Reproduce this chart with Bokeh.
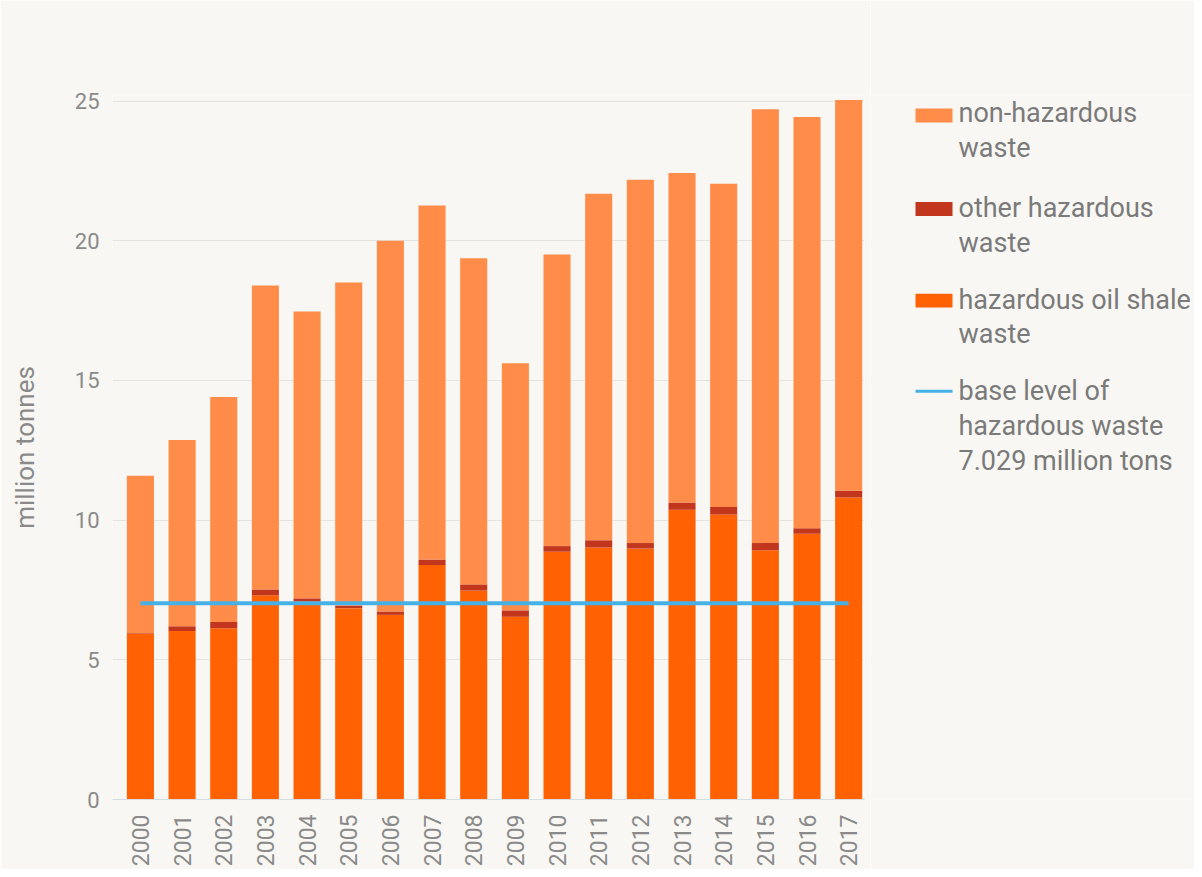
from bokeh.plotting import figure
from bokeh.layouts import row
from bokeh.models import ColumnDataSource, Range1d, FixedTicker
from bokeh.core.properties import value
from bokeh.embed import file_html
from bokeh.resources import INLINE
import math

years = list(range(2000, 2018))
oil_shale = [5.92, 6.03, 6.13, 7.31, 7.10, 6.85, 6.61, 8.39, 7.48, 6.54, 8.87, 9.02, 8.98, 10.37, 10.20, 8.92, 9.51, 10.81]
other_haz = [0.03, 0.17, 0.22, 0.21, 0.10, 0.09, 0.12, 0.20, 0.22, 0.23, 0.20, 0.26, 0.20, 0.26, 0.27, 0.26, 0.20, 0.24]
non_haz = [5.64, 6.67, 8.06, 10.88, 10.27, 11.57, 13.27, 12.67, 11.67, 8.85, 10.44, 12.40, 13.00, 11.80, 11.57, 15.53, 14.72, 13.99]
base_level = 7.029
y_ticks = [0, 5, 10, 15, 20, 25]
legend_lines = ["non-hazardous", "waste",
                "other hazardous", "waste",
                "hazardous oil shale", "waste",
                "base level of", "hazardous waste", "7.029 million tons"]

C_OIL = "#FF6103"
C_OTHER = "#C2361E"
C_NON = "#FF8C48"
C_LINE = "#45B1E6"
BG = "#F8F7F3"
TXT = "#8A8A8A"
LTXT = "#7A7A7A"
FONT = "Roboto"

src = ColumnDataSource(dict(year=years, oil=oil_shale, other=other_haz, non=non_haz,
                            base=[base_level] * len(years)))

H = 869
TOP, BOTTOM = 95, 67
p = figure(width=870, height=H, output_backend="svg", toolbar_location=None,
           x_range=Range1d(1999.33, 2017.38), y_range=Range1d(0, 25.2),
           background_fill_color=BG, border_fill_color=BG, outline_line_color=None,
           min_border_left=112, min_border_right=6, min_border_top=TOP, min_border_bottom=BOTTOM)

rs = p.vbar_stack(["oil", "other", "non"], x="year", width=0.65, source=src,
                  color=[C_OIL, C_OTHER, C_NON], line_color=None)
ln = p.line(x="year", y="base", source=src, line_color=C_LINE, line_width=4)

p.xaxis.ticker = FixedTicker(ticks=years)
p.xaxis.major_label_orientation = math.pi / 2
p.xaxis.major_tick_line_color = None
p.xaxis.minor_tick_line_color = None
p.xaxis.axis_line_color = "#D5DCE2"
p.xaxis.major_label_text_font = FONT
p.xaxis.major_label_text_font_size = "23px"
p.xaxis.major_label_text_color = TXT
p.xaxis.major_label_standoff = 9

p.yaxis.ticker = FixedTicker(ticks=y_ticks)
p.yaxis.axis_line_color = None
p.yaxis.major_tick_line_color = None
p.yaxis.minor_tick_line_color = None
p.yaxis.major_label_text_font = FONT
p.yaxis.major_label_text_font_size = "22px"
p.yaxis.major_label_text_color = TXT
p.yaxis.major_label_standoff = 7
p.yaxis.axis_label = "million tonnes"
p.yaxis.axis_label_text_font = FONT
p.yaxis.axis_label_text_font_size = "26px"
p.yaxis.axis_label_text_font_style = "normal"
p.yaxis.axis_label_text_color = TXT
p.yaxis.axis_label_standoff = 32

p.xgrid.grid_line_color = None
p.ygrid.grid_line_color = "#E4E3DF"
p.ygrid.grid_line_width = 1

# legend panel: its frame is aligned with the chart frame; ranges are in page pixels
LX0, LX1 = 870, 1194
lg = figure(width=LX1 - LX0, height=H, output_backend="svg", toolbar_location=None,
            x_range=Range1d(LX0, LX1), y_range=Range1d(H - BOTTOM, TOP),
            background_fill_color=BG, border_fill_color=BG, outline_line_color=None,
            min_border_left=0, min_border_right=0, min_border_top=TOP, min_border_bottom=BOTTOM,
            x_axis_type=None, y_axis_type=None)
lg.grid.grid_line_color = None
lg.rect(x=[933.5, 933.5, 933.5], y=[115, 209, 301], width=37, height=14,
        color=[C_NON, C_OTHER, C_OIL], line_color=None)
lg.segment(x0=[915], y0=[392], x1=[952], y1=[392], line_color=C_LINE, line_width=3)
lg.text(x=[958] * 9, y=[113, 148, 208, 243, 300, 335, 392, 427, 462], text=legend_lines,
        text_font=value(FONT), text_font_size="27px", text_color=LTXT,
        text_baseline="middle", text_align="left")

layout = row(p, lg, spacing=0)
open("out.html", "w").write(file_html(layout, INLINE))
